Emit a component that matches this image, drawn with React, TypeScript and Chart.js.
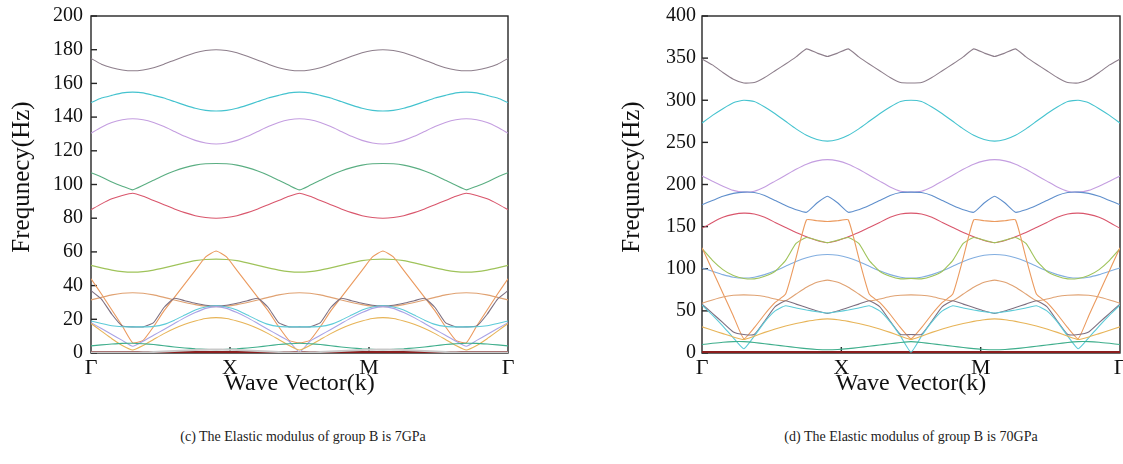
import React, { useEffect, useRef } from 'react';
import { Chart, registerables } from 'chart.js';

Chart.register(...registerables);

// wave-vector positions (Γ=0, X=1, M=2, Γ=3)
const K = [0, 0.075, 0.15, 0.225, 0.3, 0.375, 0.45, 0.525, 0.6, 0.675, 0.75, 0.825, 0.9, 0.975, 1.05, 1.125, 1.2, 1.275, 1.35, 1.425, 1.5, 1.575, 1.65, 1.725, 1.8, 1.875, 1.95, 2.025, 2.1, 2.175, 2.25, 2.325, 2.4, 2.475, 2.55, 2.625, 2.7, 2.775, 2.85, 2.925, 3];
const xTickPos = [0, 1, 2, 3];
const xTickLabels = ['Γ', 'X', 'M', 'Γ'];
const yTitle = 'Frequnecy(Hz)';
const xTitle = 'Wave Vector(k)';
const captionC = '(c) The Elastic modulus of group B is 7GPa';
const captionD = '(d) The Elastic modulus of group B is 70GPa';

// ---------- panel (c): 7 GPa ----------
const c_bottom = [0.5,0.5,0.5,0.5,0.5,0.5,0.5,0.5,0.5,0.5,0.5,0.5,0.5,0.5,0.5,0.5,0.5,0.5,0.5,0.5,0.5,0.5,0.5,0.5,0.5,0.5,0.5,0.5,0.5,0.5,0.5,0.5,0.5,0.5,0.5,0.5,0.5,0.5,0.5,0.5,0.5];
const c_gray = [0.3,0.3,0.3,0.3,0.3,0.4,0.6,0.9,1.2,1.5,1.8,2.0,2.1, 2.0,1.8,1.5,1.2,0.9,0.6,0.4,0.3, 0.4,0.6,0.9,1.2,1.5,1.8,2.0,2.1, 2.0,1.8,1.5,1.2,0.9,0.6,0.4,0.3,0.3,0.3,0.3,0.3];
const c_teal = [4.2,4.8,5.3,5.7,5.8,5.5,5.0,4.3,3.6,3.0,2.5,2.2,2.0, 2.2,2.5,3.0,3.6,4.3,5.0,5.5,5.8, 5.5,5.0,4.3,3.6,3.0,2.5,2.2,2.0, 2.2,2.5,3.0,3.6,4.3,5.0,5.5,5.8,5.7,5.3,4.8,4.2];
const c_yellow = [17.5,13,8.5,4.5,1.8,4.5,8,11.5,14.5,17,19,20.5,21, 20.5,19,17,14.5,11.5,8,4.5,1.8, 4.5,8,11.5,14.5,17,19,20.5,21, 20.5,19,17,14.5,11.5,8,4.5,1.8,4.5,8.5,13,17.5];
const c_lavLow = [18,14.5,11,7.5,4,7,10.5,14,17.5,21,24,26.5,27.5, 26.5,24,21,17.5,14,10.5,7,0.5, 7,10.5,14,17.5,21,24,26.5,27.5, 26.5,24,21,17.5,14,10.5,7,4,7.5,11,14.5,18];
const c_cyanLow = [19,17.5,16.2,15.6,15.5,15.5,15.8,17,19.5,22.5,25.5,27.3,28, 27.3,25.5,22.5,19.5,17,15.8,15.5,15.5, 15.5,15.8,17,19.5,22.5,25.5,27.3,28, 27.3,25.5,22.5,19.5,17,15.8,15.5,15.5,15.6,16.2,17.5,19];
const c_mauveLow = [37,32,23,16,15.5,15.5,18,27,32.5,31,29.5,28.3,28, 28.3,29.5,31,32.5,27,18,15.5,15.5, 15.5,18,27,32.5,31,29.5,28.3,28, 28.3,29.5,31,32.5,27,18,15.5,15.5,16,23,32,37];
const c_orangeFlat = [31.5,33,34.5,35.5,35.8,35.5,34.5,33,31.5,30,28.7,27.8,27.5, 27.8,28.7,30,31.5,33,34.5,35.5,35.8, 35.5,34.5,33,31.5,30,28.7,27.8,27.5, 27.8,28.7,30,31.5,33,34.5,35.5,35.8,35.5,34.5,33,31.5];
const c_orangeSteep = [44,35,25.5,16,6,7.5,15.6,25,33,41,49,57,60.5, 57,49,41,33,25,15.6,7.5,6, 7.5,15.6,25,33,41,49,57,60.5, 57,49,41,33,25,15.6,7.5,6,16,25.5,35,44];
const c_olive = [52,50.5,49.2,48.3,48,48.3,49.2,50.5,52,53.5,54.8,55.5,55.7, 55.5,54.8,53.5,52,50.5,49.2,48.3,48, 48.3,49.2,50.5,52,53.5,54.8,55.5,55.7, 55.5,54.8,53.5,52,50.5,49.2,48.3,48,48.3,49.2,50.5,52];
const c_red = [85,88.5,91.5,93.5,94.8,93,90.5,88,85.5,83.3,81.5,80.4,80, 80.4,81.5,83.3,85.5,88,90.5,93,94.8, 93,90.5,88,85.5,83.3,81.5,80.4,80, 80.4,81.5,83.3,85.5,88,90.5,93,94.8,93.5,91.5,88.5,85];
const c_green = [107,104.5,101.5,99,96.8,99.5,102.5,105.5,108,110,111.5,112.3,112.5, 112.3,111.5,110,108,105.5,102.5,99.5,96.8, 99.5,102.5,105.5,108,110,111.5,112.3,112.5, 112.3,111.5,110,108,105.5,102.5,99.5,96.8,99,101.5,104.5,107];
const c_lavender = [130.5,134,136.8,138.4,139,138.4,136.8,134.4,131.5,128.6,126.2,124.6,124, 124.6,126.2,128.6,131.5,134.4,136.8,138.4,139, 138.4,136.8,134.4,131.5,128.6,126.2,124.6,124, 124.6,126.2,128.6,131.5,134.4,136.8,138.4,139,138.4,136.8,134,130.5];
const c_cyan = [148.6,151.3,152.9,154.4,154.8,154.4,152.9,151.3,149.2,147.1,145.2,144,143.6, 144,145.2,147.1,149.2,151.3,152.9,154.4,154.8, 154.4,152.9,151.3,149.2,147.1,145.2,144,143.6, 144,145.2,147.1,149.2,151.3,152.9,154.4,154.8,154.4,152.9,151.3,148.6];
const c_top = [174.8,171.4,169.3,168,167.5,168,169.3,171.4,173.8,176.1,178.2,179.5,180, 179.5,178.2,176.1,173.8,171.4,169.3,168,167.5, 168,169.3,171.4,173.8,176.1,178.2,179.5,180, 179.5,178.2,176.1,173.8,171.4,169.3,168,167.5,168,169.3,171.4,174.8];

// ---------- panel (d): 70 GPa ----------
const d_bottom = [0.8,0.8,0.8,0.8,0.8,0.8,0.8,0.8,0.8,0.8,0.8,0.8,0.8,0.8,0.8,0.8,0.8,0.8,0.8,0.8,0.8,0.8,0.8,0.8,0.8,0.8,0.8,0.8,0.8,0.8,0.8,0.8,0.8,0.8,0.8,0.8,0.8,0.8,0.8,0.8,0.8];
const d_teal = [10,11.5,12.8,13.5,13.5,12.5,11,9.5,8,6.5,5.2,4.2,3.8, 4.2,5.2,6.5,8,9.5,11,12.5,13.5, 12.5,11,9.5,8,6.5,5.2,4.2,3.8, 4.2,5.2,6.5,8,9.5,11,12.5,13.5,13.5,12.8,11.5,10];
const d_cyanLow = [57,45,32,18,5,20,37,50,56,53.5,51,49,47.5, 49,51,53.5,56,50,37,20,1, 20,37,50,56,53.5,51,49,47.5, 49,51,53.5,56,50,37,20,5,18,32,45,57];
const d_yellow = [31,27,23,19,16,20,24.5,28.5,32,35,37.5,39.5,40.5, 39.5,37.5,35,32,28.5,24.5,20,16, 20,24.5,28.5,32,35,37.5,39.5,40.5, 39.5,37.5,35,32,28.5,24.5,20,16,19,23,27,31];
const d_mauveLow = [58,47,36,25,22,22,38,55,62,58,54,50,47, 50,54,58,62,55,38,22,22, 22,38,55,62,58,54,50,47, 50,54,58,62,55,38,22,22,25,36,47,58];
const d_orangeFlat = [59,63,66.5,68.5,69,68.5,67,64,62,70,78,84,86.5, 84,78,70,62,64,67,68.5,69, 68.5,67,64,62,70,78,84,86.5, 84,78,70,62,64,67,68.5,69,68.5,66.5,63,59];
const d_orangeSteep = [125,98,71,44,17,30,46,60,70,113,158,157,156, 157,158,113,70,60,46,30,17, 30,46,60,70,113,158,157,156, 157,158,113,70,60,46,30,17,44,71,98,125];
const d_olive = [124,110,99,92,88.5,88,91,97,110,130,137,134,131, 134,137,130,110,97,91,88,88.5, 88,91,97,110,130,137,134,131, 134,137,130,110,97,91,88,88.5,92,99,110,124];
const d_red = [148,155,161,164.5,166,165,161,155,149,143,138,133.5,131, 133.5,138,143,149,155,161,165,166, 165,161,155,149,143,138,133.5,131, 133.5,138,143,149,155,161,165,166,164.5,161,155,148];
const d_lightBlue = [101,97,93,90,89,90,93,97.5,103,108.5,113,116,117, 116,113,108.5,103,97.5,93,90,89, 90,93,97.5,103,108.5,113,116,117, 116,113,108.5,103,97.5,93,90,89,90,93,97,101];
const d_blue = [176,181,186,189.5,191,190.5,187,181,175,170,167,178,186, 178,167,170,175,181,187,190.5,191, 190.5,187,181,175,170,167,178,186, 178,167,170,175,181,187,190.5,191,189.5,186,181,176];
const d_lavender = [210,204,198,193,191,192,197,204,211,218,224,228,229.5, 228,224,218,211,204,197,192,191, 192,197,204,211,218,224,228,229.5, 228,224,218,211,204,197,192,191,193,198,204,210];
const d_cyan = [273,282,290,297,300,298.5,292,284,275,266,258.5,253.5,251.5, 253.5,258.5,266,275,284,292,298.5,300, 298.5,292,284,275,266,258.5,253.5,251.5, 253.5,258.5,266,275,284,292,298.5,300,297,290,282,273];
const d_top = [349,342,333,325,320.5,321,327,335,343,351.5,361,356,352, 356,361,351.5,343,335,327,321,320.5, 321,327,335,343,351.5,361,356,352, 356,361,351.5,343,335,327,321,320.5,325,333,342,349];

const FONT = "'Liberation Serif', 'Times New Roman', Times, serif";

type Line = { data: number[]; color: string; width?: number };

const seriesC: Line[] = [
  { data: c_gray, color: '#c9c9c9', width: 2 },
  { data: c_teal, color: '#3fae8c' },
  { data: c_yellow, color: '#e7b458' },
  { data: c_lavLow, color: '#a9a3e6' },
  { data: c_cyanLow, color: '#5ccbd8' },
  { data: c_mauveLow, color: '#7d6f80' },
  { data: c_orangeFlat, color: '#e0a272' },
  { data: c_orangeSteep, color: '#eb9a5e' },
  { data: c_olive, color: '#9fc35a' },
  { data: c_red, color: '#d9566c' },
  { data: c_green, color: '#5aae82' },
  { data: c_lavender, color: '#c49ee0' },
  { data: c_cyan, color: '#45c3cf' },
  { data: c_top, color: '#8e7f8c' },
  { data: c_bottom, color: '#8b1e1e', width: 2.5 },
];

const seriesD: Line[] = [
  { data: d_teal, color: '#3fae8c' },
  { data: d_yellow, color: '#e7b458' },
  { data: d_cyanLow, color: '#5ccbd8' },
  { data: d_mauveLow, color: '#7d6f80' },
  { data: d_orangeFlat, color: '#e0a272' },
  { data: d_orangeSteep, color: '#eb9a5e' },
  { data: d_olive, color: '#9fc35a' },
  { data: d_lightBlue, color: '#82aee0' },
  { data: d_red, color: '#d9566c' },
  { data: d_blue, color: '#5f8fcc' },
  { data: d_lavender, color: '#c49ee0' },
  { data: d_cyan, color: '#45c3cf' },
  { data: d_top, color: '#8e7f8c' },
  { data: d_bottom, color: '#8b1e1e', width: 2.5 },
];

const framePlugin = {
  id: 'bandFrame',
  beforeDatasetsDraw(chart: any) {
    const { ctx, chartArea: a, scales } = chart;
    ctx.save();
    ctx.strokeStyle = '#262626';
    ctx.lineWidth = 1.4;
    ctx.strokeRect(a.left, a.top, a.right - a.left, a.bottom - a.top);
    const y = scales.y;
    y.ticks.forEach((t: any) => {
      const py = y.getPixelForValue(t.value);
      ctx.beginPath();
      ctx.moveTo(a.left, py);
      ctx.lineTo(a.left + 6, py);
      ctx.stroke();
    });
    const x = scales.x;
    [1, 2].forEach((v) => {
      const px = x.getPixelForValue(v);
      ctx.beginPath();
      ctx.moveTo(px, a.bottom);
      ctx.lineTo(px, a.bottom - 6);
      ctx.stroke();
    });
    ctx.restore();
  },
};

function makeYTitlePlugin(cx: number, cy: number) {
  return {
    id: 'yTitleText',
    afterDraw(chart: any) {
      const { ctx } = chart;
      ctx.save();
      ctx.translate(cx, cy);
      ctx.rotate(-Math.PI / 2);
      ctx.font = `25px ${FONT}`;
      ctx.fillStyle = '#111';
      ctx.textAlign = 'center';
      ctx.textBaseline = 'middle';
      ctx.fillText(yTitle, 0, 0);
      ctx.restore();
    },
  };
}

type PanelProps = {
  series: Line[];
  yMax: number;
  yStep: number;
  left: number;
  width: number;
  padLeft: number;
  padRight: number;
  yWidth: number;
  tickPad: number;
  titleX: number;
};

const CANVAS_H = 398;
const X_AXIS_H = CANVAS_H - 353;

function Panel(p: PanelProps) {
  const ref = useRef<HTMLCanvasElement | null>(null);
  useEffect(() => {
    if (!ref.current) return;
    const chart = new Chart(ref.current, {
      type: 'line',
      data: {
        datasets: p.series.map((s) => ({
          data: s.data.map((v, i) => ({ x: K[i], y: v })),
          borderColor: s.color,
          borderWidth: s.width ?? 1.1,
          pointRadius: 0,
          tension: 0.15,
          fill: false,
        })),
      },
      options: {
        animation: false,
        responsive: false,
        devicePixelRatio: 1,
        layout: { padding: { left: p.padLeft, top: 16, right: p.padRight, bottom: 0 } },
        plugins: { legend: { display: false }, tooltip: { enabled: false } },
        scales: {
          x: {
            type: 'linear',
            min: 0,
            max: 3,
            grid: { display: false, drawTicks: false },
            border: { display: false },
            afterBuildTicks: (s: any) => {
              s.ticks = xTickPos.map((v) => ({ value: v }));
            },
            afterFit: (s: any) => {
              s.height = X_AXIS_H;
              s.paddingLeft = 0;
              s.paddingRight = 0;
            },
            ticks: {
              autoSkip: false,
              maxRotation: 0,
              padding: 2,
              color: '#111',
              font: { family: FONT, size: 22 },
              callback: (_v: any, i: number) => xTickLabels[i],
            },
            title: {
              display: true,
              text: xTitle,
              color: '#111',
              padding: 0,
              font: { family: FONT, size: 24, lineHeight: 1.2 },
            },
          },
          y: {
            min: 0,
            max: p.yMax,
            grid: { display: false, drawTicks: false },
            border: { display: false },
            afterFit: (s: any) => {
              s.width = p.yWidth;
              s.paddingTop = 0;
              s.paddingBottom = 0;
            },
            ticks: {
              stepSize: p.yStep,
              padding: p.tickPad,
              color: '#111',
              font: { family: FONT, size: 20 },
            },
            title: { display: false },
          },
        },
      },
      plugins: [framePlugin, makeYTitlePlugin(p.titleX, 177)],
    } as any);
    let alive = true;
    const fonts: any = (document as any).fonts;
    if (fonts && fonts.load) {
      Promise.all([
        fonts.load("20px 'Liberation Serif'"),
        fonts.load("25px 'Liberation Serif'"),
      ]).then(() => {
        if (alive) chart.update();
      }).catch(() => {});
    }
    return () => {
      alive = false;
      chart.destroy();
    };
  }, []);
  return (
    <canvas
      ref={ref}
      width={p.width}
      height={CANVAS_H}
      style={{ position: 'absolute', left: p.left, top: 0, width: p.width, height: CANVAS_H }}
    />
  );
}

export default function App() {
  const cap: React.CSSProperties = {
    position: 'absolute',
    top: 428,
    width: 400,
    textAlign: 'center',
    fontFamily: FONT,
    fontSize: 14,
    lineHeight: '18px',
    color: '#222',
    whiteSpace: 'nowrap',
  };
  return (
    <div style={{ position: 'absolute', left: 0, top: 0, width: 1123, height: 464, background: '#fff', overflow: 'hidden', fontFamily: FONT }}>
      <span style={{ position: 'absolute', left: -1000, top: 0, fontFamily: FONT, fontSize: 20 }}>Γ0123</span>
      <Panel series={seriesC} yMax={200} yStep={20} left={0} width={560} padLeft={8} padRight={52} yWidth={83} tickPad={8} titleX={22.5} />
      <Panel series={seriesD} yMax={400} yStep={50} left={600} width={523} padLeft={18} padRight={3} yWidth={84} tickPad={6} titleX={32} />
      <div style={{ ...cap, left: 303 - 200 }}>{captionC}</div>
      <div style={{ ...cap, left: 911 - 200 }}>{captionD}</div>
    </div>
  );
}
